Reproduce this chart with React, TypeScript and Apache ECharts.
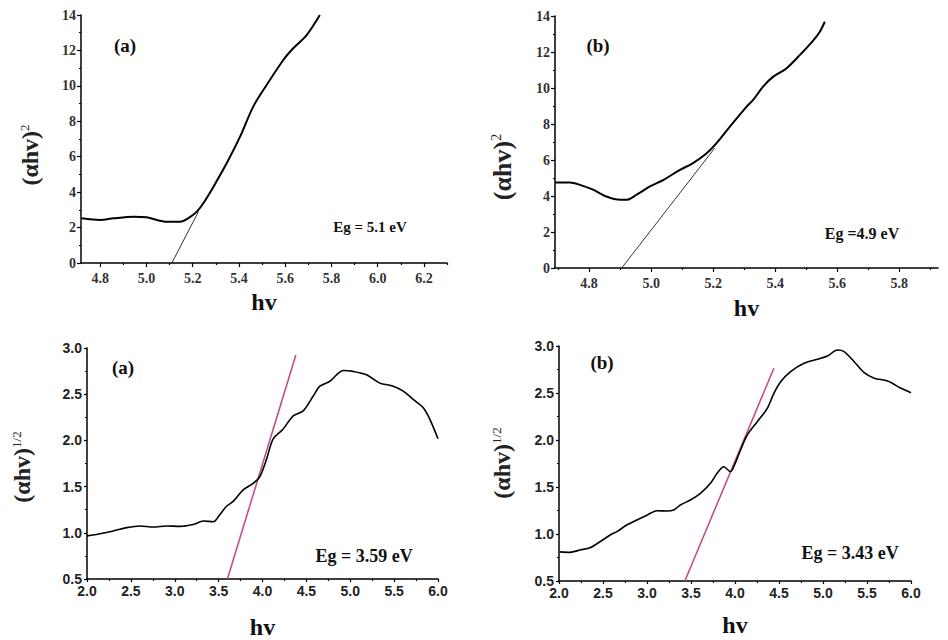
import React, { useEffect, useRef } from "react";
import * as echarts from "echarts";

// ---------- data ----------
// Panel (a) top: (αhv)^2 vs hv
const A2_X = [4.72, 4.8, 4.857, 4.944, 5.0, 5.045, 5.088, 5.146, 5.18, 5.218, 5.246, 5.29, 5.347, 5.405, 5.462, 5.52, 5.592, 5.635, 5.693, 5.75];
const A2_Y = [2.52, 2.43, 2.52, 2.61, 2.58, 2.43, 2.33, 2.33, 2.52, 2.9, 3.37, 4.31, 5.63, 7.13, 8.83, 10.05, 11.46, 12.12, 12.87, 14.0];
const A2_TAN_X = [5.11, 5.225];
const A2_TAN_Y = [0, 2.9];
const A2_XTICKS = [4.8, 5.0, 5.2, 5.4, 5.6, 5.8, 6.0, 6.2];
const A2_XMINOR = [4.9, 5.1, 5.3, 5.5, 5.7, 5.9, 6.1, 6.3];

// Panel (b) top
const B2_X = [4.69, 4.738, 4.77, 4.813, 4.856, 4.9, 4.921, 4.953, 4.996, 5.04, 5.093, 5.135, 5.179, 5.211, 5.254, 5.308, 5.329, 5.361, 5.394, 5.437, 5.48, 5.523, 5.544, 5.56];
const B2_Y = [4.75, 4.75, 4.62, 4.35, 3.97, 3.79, 3.79, 4.07, 4.53, 4.9, 5.45, 5.83, 6.38, 6.94, 7.86, 8.97, 9.34, 10.08, 10.63, 11.1, 11.84, 12.65, 13.13, 13.68];
const B2_TAN_X = [4.905, 5.205];
const B2_TAN_Y = [0, 6.66];
const B2_XTICKS = [4.8, 5.0, 5.2, 5.4, 5.6, 5.8];
const B2_XMINOR = [4.7, 4.9, 5.1, 5.3, 5.5, 5.7, 5.9];

// Panel (a) bottom: (αhv)^1/2 vs hv
const AH_X = [2.0, 2.148, 2.3, 2.452, 2.604, 2.755, 2.908, 3.059, 3.21, 3.325, 3.44, 3.515, 3.59, 3.666, 3.78, 3.894, 3.97, 4.047, 4.122, 4.236, 4.35, 4.464, 4.578, 4.654, 4.768, 4.844, 4.92, 5.033, 5.185, 5.337, 5.49, 5.604, 5.718, 5.83, 5.906, 6.0];
const AH_Y = [0.967, 0.99, 1.02, 1.056, 1.074, 1.063, 1.074, 1.07, 1.09, 1.127, 1.12, 1.198, 1.287, 1.34, 1.465, 1.536, 1.608, 1.8, 2.017, 2.124, 2.266, 2.32, 2.48, 2.587, 2.64, 2.71, 2.757, 2.747, 2.71, 2.62, 2.587, 2.533, 2.444, 2.355, 2.23, 2.017];
const AH_TAN_X = [3.6, 4.38];
const AH_TAN_Y = [0.5, 2.925];

// Panel (b) bottom
const BH_X = [2.01, 2.125, 2.24, 2.353, 2.467, 2.581, 2.657, 2.771, 2.885, 2.999, 3.113, 3.227, 3.303, 3.379, 3.493, 3.607, 3.721, 3.797, 3.872, 3.949, 3.986, 4.063, 4.139, 4.253, 4.367, 4.442, 4.519, 4.632, 4.784, 4.937, 5.05, 5.165, 5.24, 5.354, 5.468, 5.582, 5.734, 5.886, 6.0];
const BH_Y = [0.81, 0.805, 0.83, 0.854, 0.918, 0.989, 1.025, 1.096, 1.149, 1.2, 1.248, 1.245, 1.255, 1.309, 1.362, 1.433, 1.539, 1.646, 1.716, 1.663, 1.716, 1.894, 2.053, 2.195, 2.337, 2.497, 2.62, 2.727, 2.816, 2.859, 2.894, 2.957, 2.94, 2.833, 2.716, 2.657, 2.628, 2.55, 2.503];
const BH_TAN_X = [3.43, 4.442];
const BH_TAN_Y = [0.5, 2.763];

const LABELS = ["(a)", "(b)", "(a)", "(b)"];
const EG_TEXT = ["Eg = 5.1 eV", "Eg =4.9 eV", "Eg = 3.59 eV", "Eg = 3.43 eV"];

const SERIF = "'Liberation Serif', 'Times New Roman', serif";
const SANS = "'Liberation Sans', Arial, sans-serif";
const PINK = "#c0508c";

const zip = (xs: number[], ys: number[]) => xs.map((x, i) => [x, ys[i]]);

export default function App() {
  const ref = useRef<HTMLDivElement>(null);
  useEffect(() => {
    document.body.style.margin = "0";
    const chart = echarts.init(ref.current!, null, { renderer: "svg" });

    const grids = [
      { left: 81, top: 15, width: 366, height: 248 },
      { left: 555, top: 16, width: 383, height: 252 },
      { left: 87, top: 348, width: 351, height: 234 },
      { left: 559, top: 346, width: 352, height: 235 },
    ];

    const axisLine = { onZero: false, lineStyle: { color: "#000", width: 1.5 } };
    const tickStyle = { color: "#000", width: 1.2 };

    const topX = (gi: number, min: number, max: number, ticks: number[], nameGap: number) => ({
      type: "value", gridIndex: gi, min, max, position: "bottom",
      axisLine, splitLine: { show: false },
      axisTick: { customValues: ticks, length: 4, lineStyle: tickStyle },
      axisLabel: { customValues: ticks, formatter: (v: number) => v.toFixed(1), color: "#333", fontFamily: SERIF, fontWeight: "bold", fontSize: 14, margin: 8 },
      name: "hv", nameLocation: "middle", nameGap,
      nameTextStyle: { fontFamily: SERIF, fontWeight: "bold", fontSize: 24, color: "#111" },
    });
    const minorX = (gi: number, min: number, max: number, ticks: number[]) => ({
      type: "value", gridIndex: gi, min, max, position: "bottom",
      axisLine: { show: false }, splitLine: { show: false },
      axisTick: { customValues: ticks, length: 2, lineStyle: tickStyle },
      axisLabel: { show: false },
    });
    const topY = (gi: number) => ({
      type: "value", gridIndex: gi, min: 0, max: 14, interval: 2,
      axisLine: { show: true, onZero: false, lineStyle: { color: "#000", width: 1.5 } },
      splitLine: { show: false },
      axisTick: { show: true, length: 4, lineStyle: tickStyle },
      minorTick: { show: true, splitNumber: 2, length: 2, lineStyle: tickStyle },
      axisLabel: { color: "#333", fontFamily: SERIF, fontWeight: "bold", fontSize: 14, margin: 5 },
    });
    const botX = (gi: number, nameGap: number) => ({
      type: "value", gridIndex: gi, min: 2, max: 6, interval: 0.5, position: "bottom",
      axisLine, splitLine: { show: false },
      axisTick: { length: 3, lineStyle: tickStyle },
      minorTick: { show: true, splitNumber: 2, length: 2, lineStyle: tickStyle },
      axisLabel: { formatter: (v: number) => v.toFixed(1), color: "#222", fontFamily: SANS, fontWeight: "bold", fontSize: 14, margin: 5 },
      name: "hv", nameLocation: "middle", nameGap,
      nameTextStyle: { fontFamily: SERIF, fontWeight: "bold", fontSize: 24, color: "#111" },
    });
    const botY = (gi: number) => ({
      type: "value", gridIndex: gi, min: 0.5, max: 3.0, interval: 0.5,
      axisLine: { show: true, onZero: false, lineStyle: { color: "#000", width: 1.5 } },
      splitLine: { show: false },
      axisTick: { show: true, length: 3, lineStyle: tickStyle },
      minorTick: { show: true, splitNumber: 2, length: 2, lineStyle: tickStyle },
      axisLabel: { formatter: (v: number) => v.toFixed(1), color: "#222", fontFamily: SANS, fontWeight: "bold", fontSize: 14, margin: 5 },
    });

    const curve = (xi: number, yi: number, xs: number[], ys: number[], w: number) => ({
      type: "line", xAxisIndex: xi, yAxisIndex: yi, data: zip(xs, ys),
      showSymbol: false, smooth: 0.3, lineStyle: { color: "#000", width: w }, z: 3,
    });
    const tangent = (xi: number, yi: number, xs: number[], ys: number[], color: string, w: number) => ({
      type: "line", xAxisIndex: xi, yAxisIndex: yi, data: zip(xs, ys),
      showSymbol: false, lineStyle: { color, width: w }, z: 2,
    });

    const yTitle = (x: number, y: number, sup: string, size: number) => ({
      type: "text", x, y, rotation: Math.PI / 2,
      style: {
        text: `{m|(αhv)}{s|${sup}}`,
        align: "center", verticalAlign: "middle",
        rich: {
          m: { fontFamily: SERIF, fontWeight: "bold", fontSize: size, fill: "#222" },
          s: { fontFamily: SERIF, fontSize: Math.round(size * 0.55), fill: "#222", verticalAlign: "top" },
        },
      },
    });
    const note = (x: number, y: number, text: string, size: number) => ({
      type: "text", x, y,
      style: { text, fontFamily: SERIF, fontWeight: "bold", fontSize: size, fill: "#111", align: "center", verticalAlign: "middle" },
    });

    chart.setOption({
      animation: false,
      backgroundColor: "#fff",
      grid: grids.map((g) => ({ ...g, containLabel: false })),
      xAxis: [
        topX(0, 4.717, 6.3, A2_XTICKS, 27),
        topX(1, 4.69, 5.925, B2_XTICKS, 28),
        botX(2, 36),
        botX(3, 32),
        minorX(0, 4.717, 6.3, A2_XMINOR),
        minorX(1, 4.69, 5.925, B2_XMINOR),
      ],
      yAxis: [topY(0), topY(1), botY(2), botY(3)],
      series: [
        curve(0, 0, A2_X, A2_Y, 2),
        tangent(0, 0, A2_TAN_X, A2_TAN_Y, "#000", 0.8),
        curve(1, 1, B2_X, B2_Y, 2),
        tangent(1, 1, B2_TAN_X, B2_TAN_Y, "#000", 0.8),
        curve(2, 2, AH_X, AH_Y, 1.6),
        tangent(2, 2, AH_TAN_X, AH_TAN_Y, PINK, 1.6),
        curve(3, 3, BH_X, BH_Y, 1.6),
        tangent(3, 3, BH_TAN_X, BH_TAN_Y, PINK, 1.6),
      ],
      graphic: [
        yTitle(30, 155, "2", 24),
        yTitle(502, 167, "2", 26),
        yTitle(22, 467, "1/2", 24),
        yTitle(502, 463, "1/2", 24),
        note(125, 45, LABELS[0], 19),
        note(598, 45, LABELS[1], 19),
        note(123, 367, LABELS[2], 19),
        note(602, 362, LABELS[3], 19),
        note(370, 227, EG_TEXT[0], 15),
        note(862, 233, EG_TEXT[1], 16),
        note(364, 556, EG_TEXT[2], 18),
        note(850, 553, EG_TEXT[3], 18),
      ],
    });
    return () => chart.dispose();
  }, []);
  return <div ref={ref} style={{ width: 948, height: 640 }} />;
}
